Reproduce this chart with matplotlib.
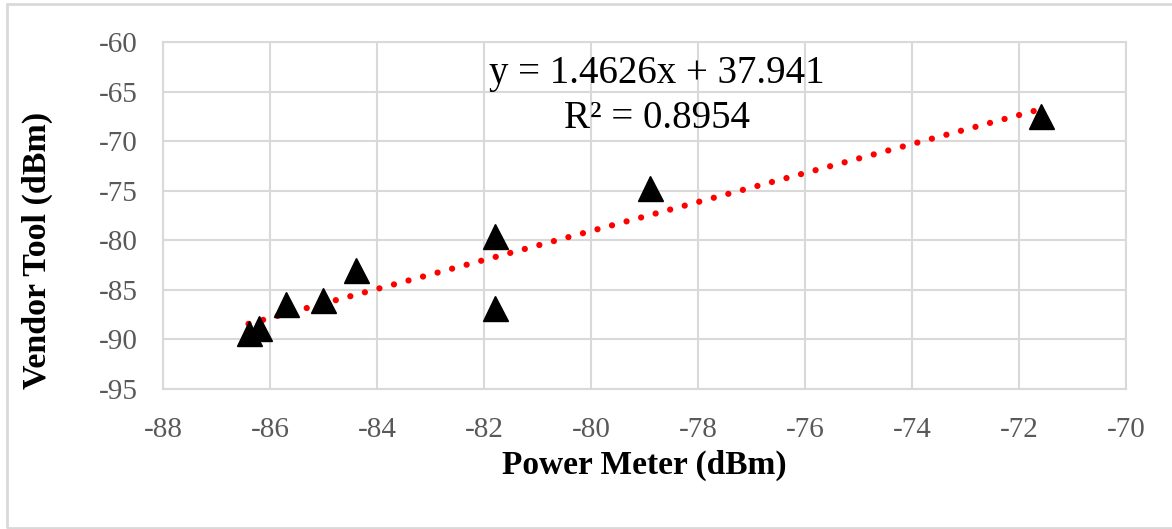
import numpy as np
import matplotlib.pyplot as plt
from matplotlib.patches import Rectangle

plt.rcParams['font.family'] = ['Liberation Serif', 'DejaVu Serif']
plt.rcParams['axes.unicode_minus'] = False

# measurements: power meter vs vendor tool readings
power_meter = [-71.6, -78.9, -81.8, -81.8, -84.4, -85.0, -85.7, -86.2, -86.4]
vendor_tool = [-67.5, -74.7, -79.6, -86.8, -83.0, -86.0, -86.4, -88.9, -89.4]

# linear trendline as reported
slope = 1.4626
intercept = 37.941
r2 = 0.8954

grid_col = '#d9d9d9'
tick_col = '#595959'

fig = plt.figure(figsize=(11.72, 5.29), dpi=100)
ax = fig.add_axes([0.139, 0.2647, 0.822, 0.656])

xs = np.linspace(min(power_meter), max(power_meter), 200)
ax.plot(xs, slope * xs + intercept, color='red', lw=4.5,
        linestyle=(0, (0.01, 2.4)), dash_capstyle='round', zorder=2)
ax.plot(power_meter, vendor_tool, linestyle='none', marker='^', markersize=18,
        color='black', zorder=3)

ax.set_xlim(-88, -70)
ax.set_ylim(-95, -60)
ax.set_xticks(np.arange(-88, -69, 2))
ax.set_yticks(np.arange(-95, -59, 5))
ax.grid(True, color=grid_col, lw=1.5)
ax.set_axisbelow(True)
for s in ax.spines.values():
    s.set_color(grid_col)
    s.set_linewidth(1.5)
ax.tick_params(length=0, labelsize=21, labelcolor=tick_col)
ax.tick_params(axis='x', pad=20)
ax.tick_params(axis='y', pad=18)

ax.set_xlabel('Power Meter (dBm)', fontsize=24, fontweight='bold', labelpad=5)
ax.set_ylabel('Vendor Tool (dBm)', fontsize=24.5, fontweight='bold')
ax.yaxis.set_label_coords(-0.114, 0.40)

ax.text(-78.77, -63.2, f'y = {slope}x + {intercept}', fontsize=28,
        ha='center', va='center')
ax.text(-78.77, -67.7, f'R² = {r2}', fontsize=28, ha='center', va='center')

# chart frame (open on the right side)
fig.patches.append(Rectangle((0.006, 0.002), 1.1, 0.99, transform=fig.transFigure,
                             fill=False, edgecolor=grid_col, lw=2))

fig.savefig('out.png', dpi=100)
